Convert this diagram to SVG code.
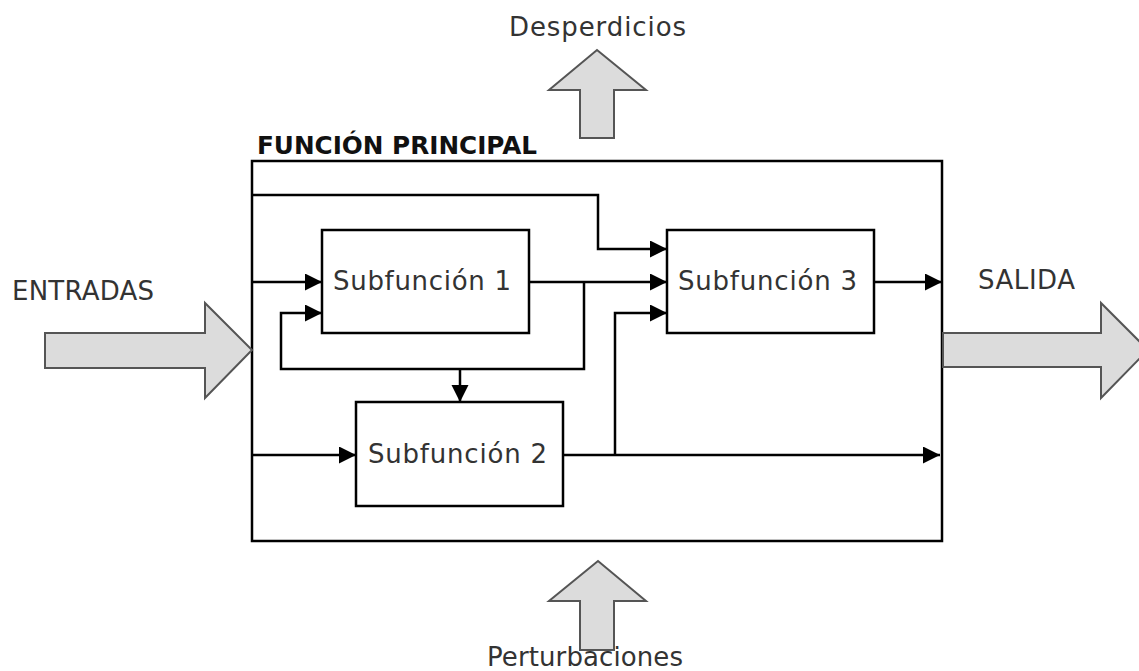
<svg xmlns="http://www.w3.org/2000/svg" width="1139" height="671" viewBox="0 0 1139 671">
<style>
.box{fill:#fff;stroke:#000;stroke-width:2.5}
.big{fill:#dcdcdc;stroke:#555;stroke-width:2;stroke-linejoin:miter}
.ln{fill:none;stroke:#000;stroke-width:2.5}
.lbl{font-family:"DejaVu Sans","Liberation Sans",sans-serif;font-size:26px;fill:#333}
.ttl{font-family:"DejaVu Sans","Liberation Sans",sans-serif;font-size:24px;font-weight:bold;fill:#111}
</style>
<defs>
<marker id="ah" markerUnits="userSpaceOnUse" markerWidth="18" markerHeight="18" refX="17" refY="8.5" orient="auto">
<path d="M0,0 L17,8.5 L0,17 z" fill="#000"/>
</marker>
</defs>
<rect width="1139" height="671" fill="#fff"/>
<g id="principal">
<rect class="box" x="252" y="161" width="690" height="380"/>
<text class="ttl" x="257" y="154" textLength="280" lengthAdjust="spacingAndGlyphs">FUNCIÓN PRINCIPAL</text>
</g>
<g id="entradas">
<polygon class="big" points="45,333 205,333 205,303 252,350 205,398 205,368 45,368"/>
<text class="lbl" x="12" y="300" textLength="142">ENTRADAS</text>
</g>
<g id="salida">
<polygon class="big" points="943,333 1101,333 1101,303 1148,350 1101,398 1101,367 943,367"/>
<text class="lbl" x="978" y="289" textLength="97">SALIDA</text>
</g>
<g id="desperdicios">
<polygon class="big" points="580,138 580,90 549,90 597,50 646,90 614,90 614,138"/>
<text class="lbl" x="509" y="36" textLength="177">Desperdicios</text>
</g>
<g id="perturbaciones">
<polygon class="big" points="580,650 580,601 549,601 598,561 646,601 614,601 614,650"/>
<text class="lbl" x="487" y="666" textLength="196">Perturbaciones</text>
</g>
<g id="connectors">
<polyline class="ln" points="252,195 598,195 598,249 667,249" marker-end="url(#ah)"/>
<line class="ln" x1="252" y1="282" x2="322" y2="282" marker-end="url(#ah)"/>
<line class="ln" x1="529" y1="282" x2="667" y2="282" marker-end="url(#ah)"/>
<polyline class="ln" points="584,282 584,369 281,369 281,313 322,313" marker-end="url(#ah)"/>
<line class="ln" x1="460" y1="369" x2="460" y2="402" marker-end="url(#ah)"/>
<line class="ln" x1="252" y1="455" x2="356" y2="455" marker-end="url(#ah)"/>
<line class="ln" x1="563" y1="455" x2="940" y2="455" marker-end="url(#ah)"/>
<polyline class="ln" points="615,455 615,313 667,313" marker-end="url(#ah)"/>
<line class="ln" x1="874" y1="282" x2="942" y2="282" marker-end="url(#ah)"/>
</g>
<g id="sub1">
<rect class="box" x="322" y="230" width="207" height="103"/>
<text class="lbl" x="333" y="290" textLength="178">Subfunción 1</text>
</g>
<g id="sub2">
<rect class="box" x="356" y="402" width="207" height="104"/>
<text class="lbl" x="368" y="463" textLength="179">Subfunción 2</text>
</g>
<g id="sub3">
<rect class="box" x="667" y="230" width="207" height="103"/>
<text class="lbl" x="678" y="290" textLength="179">Subfunción 3</text>
</g>
</svg>
